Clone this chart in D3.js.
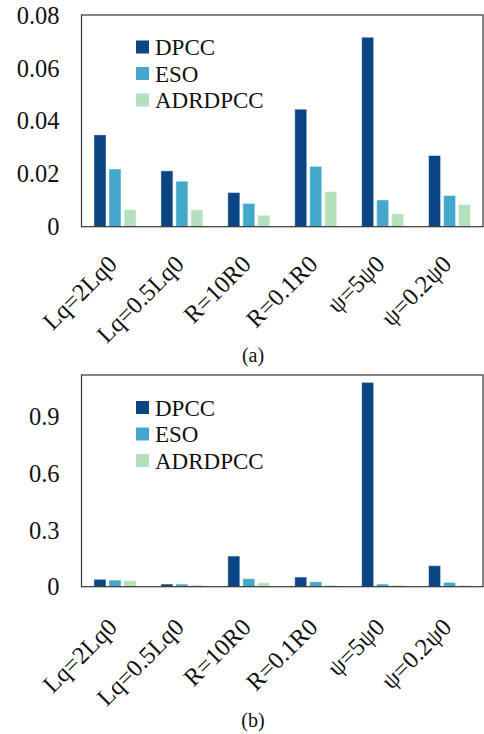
<!DOCTYPE html>
<html>
<head>
<meta charset="utf-8">
<script src="https://cdn.jsdelivr.net/npm/d3@7"></script>
<style>
  body { margin: 0; background: #fff; }
  svg { display: block; font-family: "Liberation Serif", "Times New Roman", serif; }
</style>
</head>
<body>
<div id="chart"></div>
<script>
// values
var categories = ["Lq=2Lq0", "Lq=0.5Lq0", "R=10R0", "R=0.1R0", "\u03c8=5\u03c80", "\u03c8=0.2\u03c80"];
var seriesNames = ["DPCC", "ESO", "ADRDPCC"];
var colors = ["#0b4584", "#44a8cd", "#b3e1bc"];

var dpccA = [0.0347, 0.0211, 0.0129, 0.0444, 0.0716, 0.0269];
var esoA  = [0.0218, 0.0172, 0.0088, 0.0228, 0.0101, 0.0118];
var adrA  = [0.0064, 0.0064, 0.0043, 0.0133, 0.0049, 0.0084];

var dpccB = [0.039, 0.014, 0.162, 0.051, 1.081, 0.111];
var esoB  = [0.035, 0.014, 0.042, 0.026, 0.014, 0.023];
var adrB  = [0.032, 0.009, 0.021, 0.008, 0.008, 0.008];

var ticksA = [0, 0.02, 0.04, 0.06, 0.08];
var tickLabelsA = ["0", "0.02", "0.04", "0.06", "0.08"];
var ticksB = [0, 0.3, 0.6, 0.9];
var tickLabelsB = ["0", "0.3", "0.6", "0.9"];

var width = 484, height = 734;
var svg = d3.select("#chart").append("svg")
    .attr("width", width)
    .attr("height", height);

function drawPanel(opts) {
  var left = 81.5, right = 483;
  var x0 = d3.scaleBand().domain(categories).range([left, right]);
  var x1 = d3.scaleBand().domain(seriesNames).range([12.5, 54.5]).paddingInner(0.2);
  var y = d3.scaleLinear().domain([0, opts.ymax]).range([opts.bottom, opts.top]);

  var g = svg.append("g");
  var rows = categories.map(function(c, i) {
    return opts.series.map(function(s, j) { return {cat: c, name: seriesNames[j], v: s[i], j: j}; });
  });

  g.selectAll("g.grp").data(rows).enter().append("g")
    .attr("class", "grp")
    .attr("transform", function(d, i) { return "translate(" + x0(categories[i]) + ",0)"; })
    .selectAll("rect").data(function(d) { return d; }).enter().append("rect")
      .attr("x", function(d) { return x1(d.name); })
      .attr("width", x1.bandwidth())
      .attr("y", function(d) { return y(d.v); })
      .attr("height", function(d) { return y(0) - y(d.v); })
      .attr("fill", function(d) { return colors[d.j]; })
      .attr("stroke", "#ffffff")
      .attr("stroke-opacity", 0.45)
      .attr("stroke-width", 1);

  // frame
  g.append("rect")
    .attr("x", left).attr("y", opts.top)
    .attr("width", right - left).attr("height", opts.bottom - opts.top)
    .attr("fill", "none").attr("stroke", "#333").attr("stroke-width", 1.2);

  // y tick labels
  g.selectAll("text.ytick").data(opts.ticks).enter().append("text")
    .attr("class", "ytick")
    .attr("x", 59.5)
    .attr("y", function(d) { return y(d); })
    .attr("dy", "0.35em")
    .attr("text-anchor", "end")
    .attr("font-size", 24.5)
    .attr("fill", "#111")
    .text(function(d, i) { return opts.tickLabels[i]; });

  // x labels rotated
  g.selectAll("text.xlab").data(categories).enter().append("text")
    .attr("class", "xlab")
    .attr("transform", function(d) {
      return "translate(" + (x0(d) + x0.bandwidth() / 2 + 3.5) + "," + (opts.bottom + opts.labelOffset) + ") rotate(-45)";
    })
    .attr("text-anchor", "end")
    .attr("font-size", 24.5)
    .attr("fill", "#111")
    .text(function(d) { return d; });

  // legend
  var leg = g.append("g").attr("transform", "translate(136," + opts.legendTop + ")");
  seriesNames.forEach(function(n, i) {
    leg.append("rect")
      .attr("x", 0).attr("y", i * 26.5)
      .attr("width", 13).attr("height", 13)
      .attr("fill", colors[i]);
    leg.append("text")
      .attr("x", 19).attr("y", i * 26.5 + 6.5)
      .attr("dy", "0.35em")
      .attr("font-size", 23)
      .attr("fill", "#111")
      .text(n);
  });

  // caption
  svg.append("text")
    .attr("x", 253).attr("y", opts.captionY)
    .attr("dy", "0.35em")
    .attr("text-anchor", "middle")
    .attr("font-size", 20)
    .attr("fill", "#111")
    .text(opts.caption);
}

drawPanel({series: [dpccA, esoA, adrA], ymax: 0.08, top: 15, bottom: 226.7,
  ticks: ticksA, tickLabels: tickLabelsA, labelOffset: 39, legendTop: 40.5, caption: "(a)", captionY: 355});
drawPanel({series: [dpccB, esoB, adrB], ymax: 1.12, top: 375, bottom: 586.7,
  ticks: ticksB, tickLabels: tickLabelsB, labelOffset: 42, legendTop: 401, caption: "(b)", captionY: 720});
</script>
</body>
</html>
